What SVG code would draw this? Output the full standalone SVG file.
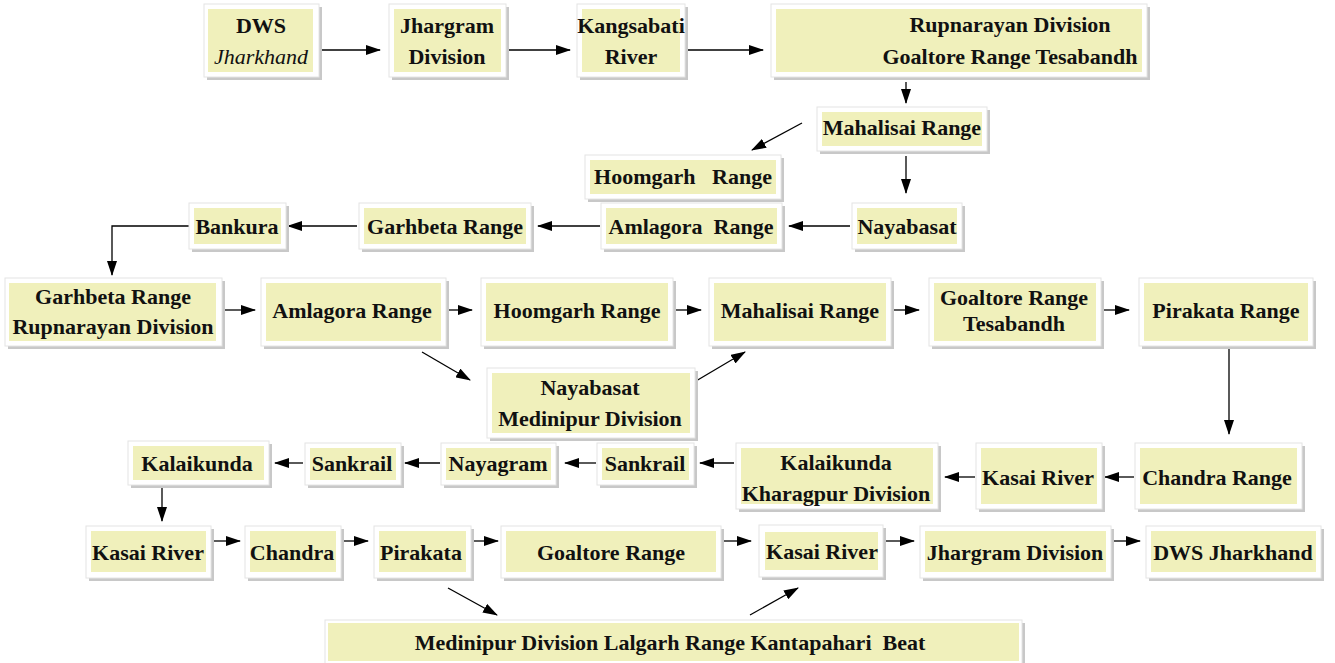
<svg xmlns="http://www.w3.org/2000/svg" width="1335" height="663" viewBox="0 0 1335 663">
<style>
.sh{fill:#c8c8c8}
.bx{fill:#fff;stroke:#e4e4e4;stroke-width:1}
.in{fill:#f0f0bb}
.c{fill:none;stroke:#000;stroke-width:1.3;marker-end:url(#ah)}
</style>
<defs>
<marker id="ah" markerWidth="15" markerHeight="10" refX="14" refY="5" orient="auto" markerUnits="userSpaceOnUse">
<path d="M0,0 L15,5 L0,10 Z" fill="#000"/>
</marker>
</defs>
<rect width="1335" height="663" fill="#fff"/>

<g id="connectors">
<path class="c" d="M320,50 H380"/>
<path class="c" d="M508,50 H570"/>
<path class="c" d="M688,50 H763"/>
<path class="c" d="M906,82 V103"/>
<path class="c" d="M802,123 L752,150"/>
<path class="c" d="M906,156 V193"/>
<path class="c" d="M850,226 H789"/>
<path class="c" d="M600,226 H538"/>
<path class="c" d="M357,226 H288"/>
<path class="c" d="M189,226 H112 V275"/>
<path class="c" d="M224,310 H255"/>
<path class="c" d="M447,310 H472"/>
<path class="c" d="M674,310 H701"/>
<path class="c" d="M893,310 H919"/>
<path class="c" d="M1103,310 H1129"/>
<path class="c" d="M1229,349 V434"/>
<path class="c" d="M422,352 L470,380"/>
<path class="c" d="M696,381 L745,352"/>
<path class="c" d="M1134,477 H1105"/>
<path class="c" d="M975,477 H945"/>
<path class="c" d="M734,463 H700"/>
<path class="c" d="M596,463 H565"/>
<path class="c" d="M440,463 H405"/>
<path class="c" d="M303,463 H275"/>
<path class="c" d="M162,488 V521"/>
<path class="c" d="M212,541 H240"/>
<path class="c" d="M341,541 H368"/>
<path class="c" d="M472,541 H498"/>
<path class="c" d="M722,541 H751"/>
<path class="c" d="M884,541 H914"/>
<path class="c" d="M1112,541 H1140"/>
<path class="c" d="M448,588 L497,615"/>
<path class="c" d="M750,615 L798,588"/>
</g>

<g id="nodes" font-family="Liberation Serif, Times New Roman, serif" font-size="22" font-weight="bold" text-anchor="middle" fill="#111">
<g id="n1"><rect class="sh" x="207" y="7" width="115" height="73"/><rect class="bx" x="204" y="4" width="115" height="73"/><rect class="in" x="208" y="9" width="105" height="63"/>
<text x="261" y="33">DWS</text><text x="261" y="64" font-style="italic" font-weight="normal">Jharkhand</text></g>

<g id="n2"><rect class="sh" x="392" y="7" width="117" height="73"/><rect class="bx" x="389" y="4" width="117" height="73"/><rect class="in" x="394" y="9" width="107" height="63"/>
<text x="447" y="33">Jhargram</text><text x="447" y="64">Division</text></g>

<g id="n3"><rect class="sh" x="580" y="7" width="108" height="73"/><rect class="bx" x="577" y="4" width="108" height="73"/><rect class="in" x="582" y="9" width="98" height="63"/>
<text x="631" y="33">Kangsabati</text><text x="631" y="64">River</text></g>

<g id="n4"><rect class="sh" x="774" y="7" width="376" height="73"/><rect class="bx" x="771" y="4" width="376" height="73"/><rect class="in" x="776" y="9" width="366" height="63"/>
<text x="1010" y="32">Rupnarayan Division</text><text x="1010" y="64">Goaltore Range Tesabandh</text></g>

<g id="n5"><rect class="sh" x="820" y="110" width="170" height="44"/><rect class="bx" x="817" y="107" width="170" height="44"/><rect class="in" x="822" y="112" width="160" height="34"/>
<text x="902" y="135">Mahalisai Range</text></g>

<g id="n6"><rect class="sh" x="588" y="158" width="196" height="44"/><rect class="bx" x="585" y="155" width="196" height="44"/><rect class="in" x="590" y="160" width="186" height="34"/>
<text x="683" y="184" xml:space="preserve">Hoomgarh   Range</text></g>

<g id="n7"><rect class="sh" x="855" y="206" width="110" height="46"/><rect class="bx" x="852" y="203" width="110" height="46"/><rect class="in" x="857" y="208" width="100" height="36"/>
<text x="907" y="234">Nayabasat</text></g>

<g id="n8"><rect class="sh" x="604" y="206" width="181" height="46"/><rect class="bx" x="601" y="203" width="181" height="46"/><rect class="in" x="606" y="208" width="171" height="36"/>
<text x="691" y="234" xml:space="preserve">Amlagora  Range</text></g>

<g id="n9"><rect class="sh" x="362" y="206" width="172" height="46"/><rect class="bx" x="359" y="203" width="172" height="46"/><rect class="in" x="364" y="208" width="162" height="36"/>
<text x="445" y="234">Garhbeta Range</text></g>

<g id="n10"><rect class="sh" x="192" y="206" width="97" height="46"/><rect class="bx" x="189" y="203" width="97" height="46"/><rect class="in" x="194" y="208" width="87" height="36"/>
<text x="237" y="234">Bankura</text></g>

<g id="n11"><rect class="sh" x="8" y="281" width="217" height="68"/><rect class="bx" x="5" y="278" width="217" height="68"/><rect class="in" x="9" y="283" width="207" height="58"/>
<text x="113" y="304">Garhbeta Range</text><text x="113" y="334">Rupnarayan Division</text></g>

<g id="n12"><rect class="sh" x="264" y="281" width="185" height="68"/><rect class="bx" x="261" y="278" width="185" height="68"/><rect class="in" x="266" y="283" width="175" height="58"/>
<text x="352" y="318">Amlagora Range</text></g>

<g id="n13"><rect class="sh" x="484" y="281" width="192" height="68"/><rect class="bx" x="481" y="278" width="192" height="68"/><rect class="in" x="486" y="283" width="182" height="58"/>
<text x="577" y="318">Hoomgarh Range</text></g>

<g id="n14"><rect class="sh" x="712" y="281" width="182" height="68"/><rect class="bx" x="709" y="278" width="182" height="68"/><rect class="in" x="714" y="283" width="172" height="58"/>
<text x="800" y="318">Mahalisai Range</text></g>

<g id="n15"><rect class="sh" x="932" y="281" width="172" height="68"/><rect class="bx" x="929" y="278" width="172" height="68"/><rect class="in" x="934" y="283" width="162" height="58"/>
<text x="1014" y="305">Goaltore Range</text><text x="1014" y="331">Tesabandh</text></g>

<g id="n16"><rect class="sh" x="1142" y="281" width="174" height="68"/><rect class="bx" x="1139" y="278" width="174" height="68"/><rect class="in" x="1144" y="283" width="164" height="58"/>
<text x="1226" y="318">Pirakata Range</text></g>

<g id="n17"><rect class="sh" x="490" y="371" width="208" height="70"/><rect class="bx" x="487" y="368" width="208" height="70"/><rect class="in" x="492" y="373" width="198" height="60"/>
<text x="590" y="395">Nayabasat</text><text x="590" y="426">Medinipur Division</text></g>

<g id="n18"><rect class="sh" x="1138" y="446" width="167" height="66"/><rect class="bx" x="1135" y="443" width="167" height="66"/><rect class="in" x="1140" y="448" width="157" height="56"/>
<text x="1217" y="485">Chandra Range</text></g>

<g id="n19"><rect class="sh" x="979" y="446" width="126" height="66"/><rect class="bx" x="976" y="443" width="126" height="66"/><rect class="in" x="981" y="448" width="116" height="56"/>
<text x="1038" y="485">Kasai River</text></g>

<g id="n20"><rect class="sh" x="739" y="446" width="202" height="66"/><rect class="bx" x="736" y="443" width="202" height="66"/><rect class="in" x="741" y="448" width="192" height="56"/>
<text x="836" y="470">Kalaikunda</text><text x="836" y="501">Kharagpur Division</text></g>

<g id="n21"><rect class="sh" x="600" y="446" width="97" height="42"/><rect class="bx" x="597" y="443" width="97" height="42"/><rect class="in" x="602" y="448" width="87" height="32"/>
<text x="645" y="471">Sankrail</text></g>

<g id="n22"><rect class="sh" x="444" y="446" width="115" height="42"/><rect class="bx" x="441" y="443" width="115" height="42"/><rect class="in" x="446" y="448" width="105" height="32"/>
<text x="498" y="471">Nayagram</text></g>

<g id="n23"><rect class="sh" x="308" y="446" width="96" height="42"/><rect class="bx" x="305" y="443" width="96" height="42"/><rect class="in" x="310" y="448" width="86" height="32"/>
<text x="352" y="471">Sankrail</text></g>

<g id="n24"><rect class="sh" x="131" y="444" width="141" height="44"/><rect class="bx" x="128" y="441" width="141" height="44"/><rect class="in" x="133" y="446" width="131" height="34"/>
<text x="197" y="471">Kalaikunda</text></g>

<g id="n25"><rect class="sh" x="89" y="529" width="125" height="52"/><rect class="bx" x="86" y="526" width="125" height="52"/><rect class="in" x="91" y="531" width="115" height="41"/>
<text x="148" y="560">Kasai River</text></g>

<g id="n26"><rect class="sh" x="248" y="529" width="96" height="52"/><rect class="bx" x="245" y="526" width="96" height="52"/><rect class="in" x="250" y="531" width="86" height="41"/>
<text x="292" y="560">Chandra</text></g>

<g id="n27"><rect class="sh" x="377" y="529" width="97" height="52"/><rect class="bx" x="374" y="526" width="97" height="52"/><rect class="in" x="379" y="531" width="87" height="41"/>
<text x="421" y="560">Pirakata</text></g>

<g id="n28"><rect class="sh" x="504" y="529" width="220" height="52"/><rect class="bx" x="501" y="526" width="220" height="52"/><rect class="in" x="506" y="531" width="210" height="41"/>
<text x="611" y="560">Goaltore Range</text></g>

<g id="n29"><rect class="sh" x="762" y="528" width="124" height="52"/><rect class="bx" x="759" y="525" width="124" height="52"/><rect class="in" x="765" y="532" width="113" height="38"/>
<text x="822" y="559">Kasai River</text></g>

<g id="n30"><rect class="sh" x="923" y="529" width="191" height="52"/><rect class="bx" x="920" y="526" width="191" height="52"/><rect class="in" x="925" y="531" width="181" height="41"/>
<text x="1015" y="560">Jhargram Division</text></g>

<g id="n31"><rect class="sh" x="1149" y="529" width="175" height="52"/><rect class="bx" x="1146" y="526" width="175" height="52"/><rect class="in" x="1151" y="531" width="165" height="41"/>
<text x="1233" y="560">DWS Jharkhand</text></g>

<g id="n32"><rect class="sh" x="328" y="623" width="697" height="50"/><rect class="bx" x="325" y="620" width="697" height="50"/><rect class="in" x="328" y="623" width="691" height="38"/>
<text x="670" y="650" xml:space="preserve">Medinipur Division Lalgarh Range Kantapahari  Beat</text></g>
</g>
</svg>
